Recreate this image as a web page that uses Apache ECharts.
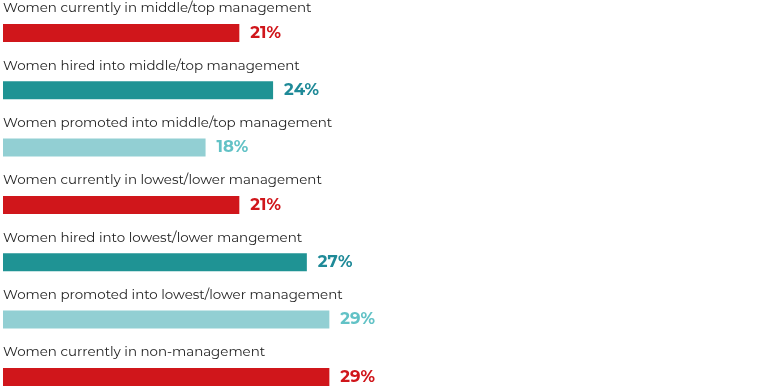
<!DOCTYPE html>
<html><head><meta charset="utf-8">
<script src="https://cdn.jsdelivr.net/npm/echarts@6/dist/echarts.min.js"></script>
<style>html,body{margin:0;padding:0;background:#fff;overflow:hidden;height:390px}#c{width:768px;height:410px}</style>
</head><body><div id="c"></div>
<script>
const categories = [
  "Women currently in middle/top management",
  "Women hired into middle/top management",
  "Women promoted into middle/top management",
  "Women currently in lowest/lower management",
  "Women hired into lowest/lower mangement",
  "Women promoted into lowest/lower management",
  "Women currently in non-management"
];
const values = [21, 24, 18, 21, 27, 29, 29];
const barColors = ["#d0161b", "#1f9394", "#92cfd3", "#d0161b", "#1f9394", "#92cfd3", "#d0161b"];
const labelColors = ["#d0161b", "#1f8a98", "#62c2c6", "#d0161b", "#1f8a98", "#62c2c6", "#d0161b"];

const chart = echarts.init(document.getElementById('c'));
chart.setOption({
  animation: false,
  grid: { left: 0.8, right: 11, top: 4.3, height: 401.3, containLabel: false },
  xAxis: { type: 'value', min: 0, max: 67, show: false },
  yAxis: {
    type: 'category', data: categories, inverse: true,
    axisLine: { show: false }, axisTick: { show: false }, splitLine: { show: false },
    axisLabel: {
      inside: true, align: 'left', verticalAlign: 'bottom',
      padding: [0, 0, 18, 0], margin: 0,
      color: '#222', fontSize: 13.4, fontFamily: 'Montserrat, "Open Sans", sans-serif', letterSpacing: 0.3
    },
    z: 10
  },
  series: [{
    type: 'bar', barWidth: 18,
    data: values.map((v, i) => ({
      value: v,
      itemStyle: { color: barColors[i] },
      label: { color: labelColors[i] }
    })),
    label: {
      show: true, position: 'right', distance: 11,
      formatter: '{c}%', fontSize: 16.5, fontWeight: 'bold',
      fontFamily: 'Montserrat, "Open Sans", sans-serif'
    }
  }]
});
</script></body></html>
